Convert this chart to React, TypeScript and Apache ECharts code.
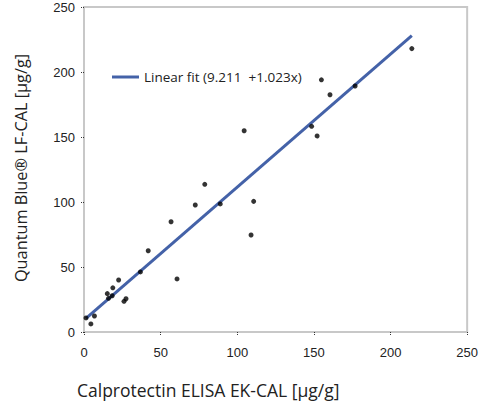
import React, { useEffect, useRef } from "react";
import * as echarts from "echarts";

const elisaValues = [1.3, 4.5, 6.8, 15.2, 16, 18.4, 18.8, 22.6, 26.1, 27.4, 36.8, 41.9, 56.8, 60.7, 72.6, 78.8, 88.9, 104.5, 109, 110.7, 148.5, 152.1, 154.9, 160.5, 176.9, 213.9];
const quantumValues = [10.8, 6.2, 12.3, 29.5, 25.9, 27.9, 34, 40, 23.6, 25.6, 46.2, 62.5, 84.8, 40.8, 97.7, 113.6, 98.5, 154.8, 74.6, 100.5, 158.2, 150.8, 194, 182.5, 189.2, 218];
const fitIntercept = 9.211;
const fitSlope = 1.023;
const fitName = "Linear fit (9.211  +1.023x)";
const xTitle = "Calprotectin ELISA EK-CAL [μg/g]";
const yTitle = "Quantum Blue® LF-CAL [μg/g]";

export default function App() {
  const ref = useRef<HTMLDivElement>(null);
  useEffect(() => {
    if (!ref.current) return;
    const chart = echarts.init(ref.current, undefined, { renderer: "svg" });
    const points = elisaValues.map((x, i) => [x, quantumValues[i]]);
    const xMin = Math.min(...elisaValues);
    const xMax = Math.max(...elisaValues);
    const fitLine = [xMin, xMax].map((x) => [x, fitIntercept + fitSlope * x]);
    const axisCommon = {
      min: 0,
      max: 250,
      interval: 50,
      axisLine: { show: true, lineStyle: { color: "#c8c8c8", width: 2 } },
      axisTick: { show: true, length: 3, lineStyle: { color: "#333", type: "dotted", width: 1 } },
      splitLine: { show: false },
      axisLabel: { color: "#222", fontFamily: "Liberation Sans", fontSize: 13 },
    };
    chart.setOption({
      animation: false,
      grid: {
        left: 84,
        right: 6,
        top: 7,
        bottom: 73,
        show: true,
        borderColor: "#c8c8c8",
        borderWidth: 2,
      },
      xAxis: { type: "value", ...axisCommon, axisLabel: { ...axisCommon.axisLabel, margin: 14 } },
      yAxis: { type: "value", ...axisCommon, axisLabel: { ...axisCommon.axisLabel, margin: 9 } },
      legend: {
        data: [{ name: fitName, icon: "rect" }],
        left: 112,
        top: 70,
        padding: 0,
        itemWidth: 27,
        itemHeight: 3,
        textStyle: { fontFamily: "Open Sans", fontSize: 13.5, color: "#222" },
      },
      graphic: [
        {
          type: "text",
          x: 77,
          y: 390,
          style: {
            text: xTitle,
            fontFamily: "Open Sans",
            fontSize: 17.5,
            fill: "#222",
            align: "left",
            verticalAlign: "middle",
          },
        },
        {
          type: "text",
          x: 21,
          y: 168,
          rotation: Math.PI / 2,
          style: {
            text: yTitle,
            fontFamily: "Open Sans",
            fontSize: 16.3,
            fill: "#222",
            align: "center",
            verticalAlign: "middle",
          },
        },
      ],
      series: [
        {
          type: "line",
          name: fitName,
          data: fitLine,
          symbol: "none",
          lineStyle: { color: "#4462a8", width: 3 },
          itemStyle: { color: "#4462a8" },
          z: 2,
        },
        {
          type: "scatter",
          name: "data",
          data: points,
          symbolSize: 5,
          itemStyle: { color: "#000" },
          z: 3,
        },
      ],
    });
    return () => chart.dispose();
  }, []);
  return <div ref={ref} style={{ width: 481, height: 405, position: "absolute", left: 0, top: 0 }} />;
}
